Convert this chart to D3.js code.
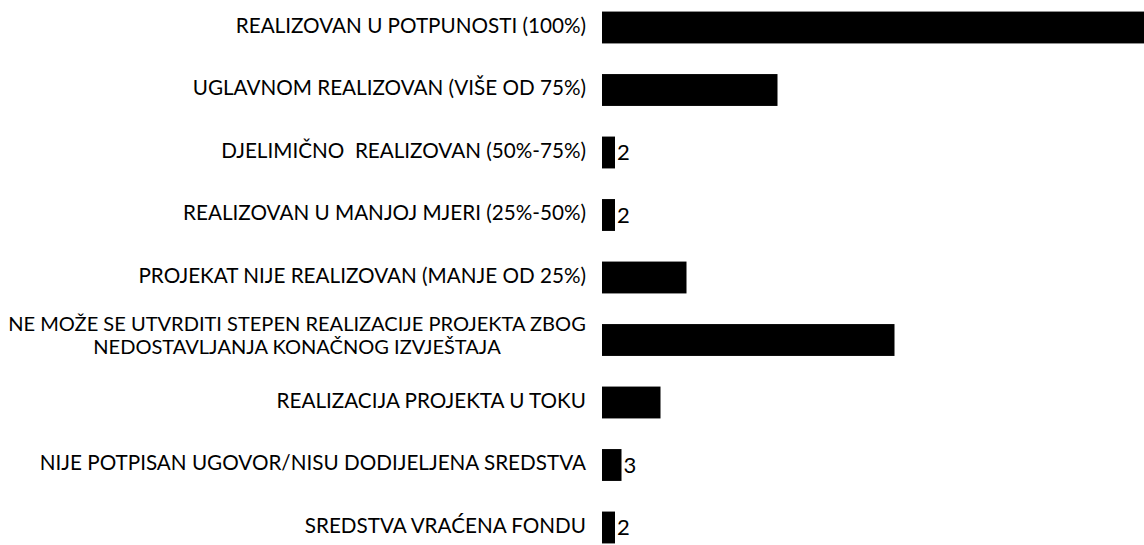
<!DOCTYPE html>
<html lang="sr">
<head>
<meta charset="UTF-8">
<title>Stepen realizacije projekata</title>
<script src="https://cdn.jsdelivr.net/npm/d3@7/dist/d3.min.js"></script>
<style>
html, body { margin: 0; padding: 0; background: #fff; }
svg { display: block; }
text { font-family: Lato, "Open Sans", sans-serif; fill: #000; white-space: pre; }
</style>
</head>
<body>
<svg width="1144" height="545"></svg>
<script>
// categories (top to bottom), lines of each label
var categories = [
    ["REALIZOVAN U POTPUNOSTI (100%)"],
    ["UGLAVNOM REALIZOVAN (VIŠE OD 75%)"],
    ["DJELIMIČNO  REALIZOVAN (50%-75%)"],
    ["REALIZOVAN U MANJOJ MJERI (25%-50%)"],
    ["PROJEKAT NIJE REALIZOVAN (MANJE OD 25%)"],
    ["NE MOŽE SE UTVRDITI STEPEN REALIZACIJE PROJEKTA ZBOG", "NEDOSTAVLJANJA KONAČNOG IZVJEŠTAJA"],
    ["REALIZACIJA PROJEKTA U TOKU"],
    ["NIJE POTPISAN UGOVOR/NISU DODIJELJENA SREDSTVA"],
    ["SREDSTVA VRAĆENA FONDU"]
];
// values (first bar runs past the right edge)
var values = [88, 27, 2, 2, 13, 45, 9, 3, 2];
// only the small bars carry a readable label
var shownLabels = [null, null, "2", "2", null, null, null, "3", "2"];

var svg = d3.select("svg");

var x = d3.scaleLinear().domain([0, 100]).range([602, 1252]);
var y = d3.scaleBand()
    .domain(d3.range(categories.length))
    .range([-3.75, 558.75])
    .paddingInner(0.49)
    .paddingOuter(0.245);

// fit category font: long wrapped label spans about x = 8..586
var probe = svg.append("text").style("font-size", "20px").text(categories[5][0]);
var fs = 20 * 578 / probe.node().getComputedTextLength();
probe.remove();
var lh = 23;

svg.append("g").selectAll("rect")
    .data(values)
    .join("rect")
    .attr("x", x(0))
    .attr("y", function(d, i) { return y(i); })
    .attr("width", function(d) { return x(d) - x(0); })
    .attr("height", y.bandwidth())
    .attr("fill", "#000");

var lab = svg.append("g").selectAll("text")
    .data(categories)
    .join("text")
    .style("font-size", function(d) { return (d.length > 1 ? fs : fs * 1.03) + "px"; })
    .attr("text-anchor", function(d) { return d.length > 1 ? "middle" : "end"; })
    .attr("y", function(d, i) { return y(i) + y.bandwidth() / 2 - (d.length > 1 ? 5 : 2); });

lab.selectAll("tspan")
    .data(function(d) { return d.map(function(t, k) { return { t: t, k: k, n: d.length }; }); })
    .join("tspan")
    .attr("x", function(d) { return d.n > 1 ? 297 : 586; })
    .attr("dy", function(d) {
        return d.k === 0 ? (0.36 * fs - (d.n - 1) * lh / 2) + "px" : lh + "px";
    })
    .text(function(d) { return d.t; });

svg.append("g").selectAll("text")
    .data(values)
    .join("text")
    .style("font-size", (fs * 1.1) + "px")
    .attr("x", function(d) { return x(d) + 2; })
    .attr("y", function(d, i) { return y(i) + y.bandwidth() / 2 + 0.36 * fs * 1.1; })
    .text(function(d, i) { return shownLabels[i] || ""; });
</script>
</body>
</html>
